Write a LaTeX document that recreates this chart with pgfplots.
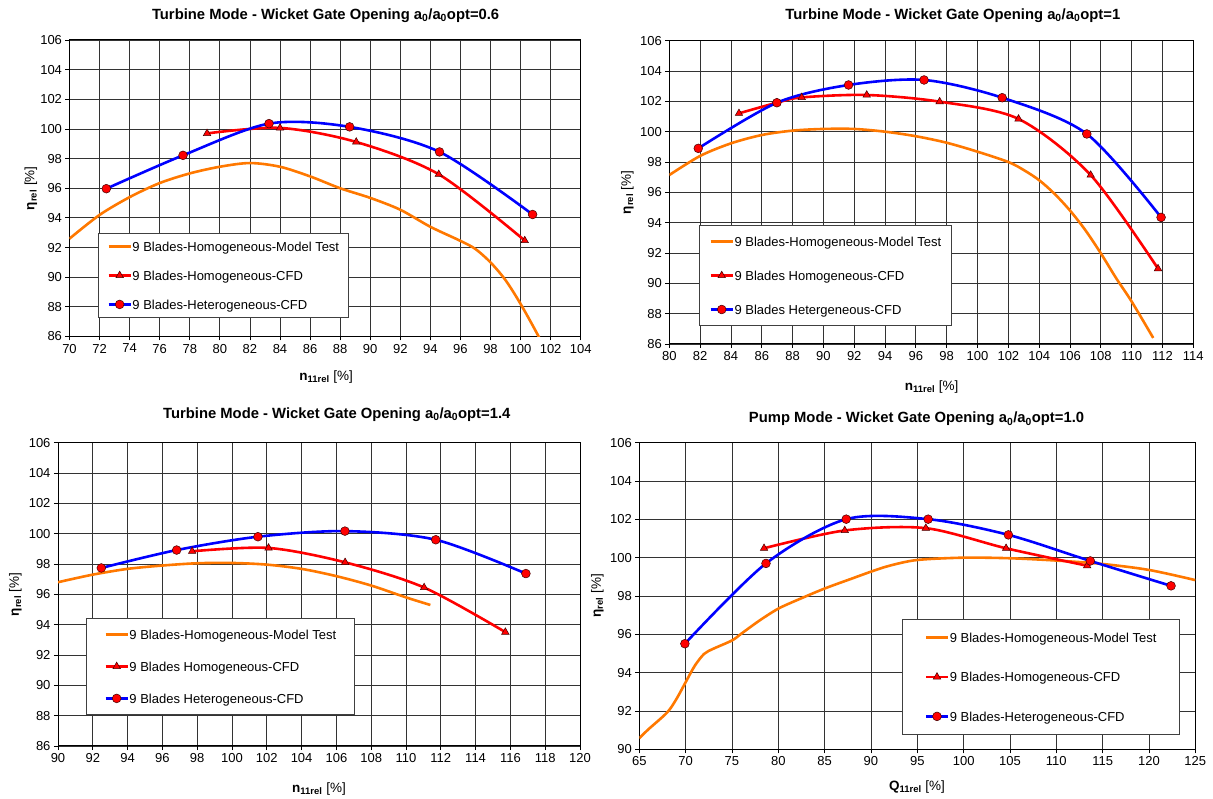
\documentclass[border=0pt]{standalone}
\usepackage{fontspec}
\setmainfont{Liberation Sans}
\usepackage{pgfplots}
\pgfplotsset{compat=1.18}
\definecolor{cOrange}{RGB}{255,120,0}
\definecolor{cRed}{RGB}{255,0,0}
\definecolor{cBlue}{RGB}{0,0,255}
\newcommand\lblfont{\fontsize{13.5}{16}\selectfont}
\pgfplotsset{
  panel/.style={
    scale only axis,
    anchor=south west,
    axis line style={black, line width=1pt},
    grid=major,
    major grid style={black!80, line width=0.8pt},
    tick style={black, line width=0.8pt},
    tick align=outside,
    major tick length=4pt,
    tick pos=left,
    /pgf/number format/assume math mode=true,
    tick label style={font=\fontsize{13}{15}\selectfont},
    legend cell align=left,
    legend image code/.code={\draw[mark repeat=2,mark phase=2,##1] plot coordinates {(0pt,0pt) (11pt,0pt) (22pt,0pt)};},
  },
  ttl/.style 2 args={every axis title/.style={at={(axis description cs:#1,#2)}, anchor=center, font=\fontsize{14.8}{17}\selectfont\bfseries}},
  xl/.style 2 args={every axis x label/.style={at={(axis description cs:#1,#2)}, anchor=center, font=\lblfont}},
  yl/.style={every axis y label/.style={at={(axis description cs:#1,0.5)}, anchor=center, rotate=90, font=\lblfont}},
  mt/.style={color=cOrange, line width=2.6pt, smooth, no markers},
  hom/.style={color=cRed, line width=2.6pt, smooth, mark=triangle*, mark size=4.3pt, mark options={fill=cRed, draw=black!75!red, line width=0.5pt}},
  het/.style={color=cBlue, line width=2.6pt, smooth, mark=*, mark size=4.4pt, mark options={fill=cRed, draw=black!75!red, line width=0.5pt}},
  lg/.style n args={5}{legend style={at={(axis description cs:#1,#2)}, anchor=north west, draw=black!75, line width=0.8pt, fill=white,
      font=\fontsize{13}{15}\selectfont, inner xsep=#3, inner ysep=#4, row sep=#5, column sep=0pt,
      nodes={inner sep=0.5pt, text height=10.7pt, text depth=1.3pt}}},
}
\begin{document}
\begin{tikzpicture}
\useasboundingbox (0pt,0pt) rectangle (1213pt,798pt);
% ---------- Panel 1 ----------
\begin{axis}[panel, at={(69.5pt,461.5pt)}, width=511.2pt, height=296.5pt,
  xmin=70, xmax=104, ymin=86, ymax=106, xtick={70,72,...,104}, ytick={86,88,...,106},
  title={Turbine Mode - Wicket Gate Opening a\textsubscript{0}/a\textsubscript{0}opt=0.6},
  ttl={0.501}{1.082},
  xlabel={{\bfseries n\textsubscript{11rel}} [\%]},
  ylabel={{\bfseries η\textsubscript{rel}} [\%]},
  xl={0.502}{-0.135}, yl={-0.0753},
  lg={0.0557}{0.349}{9pt}{6.5pt}{16pt}]
\addplot[mt] coordinates {(70,92.6) (72,94.2) (74,95.4) (76,96.35) (78,97.0) (80,97.45) (82,97.7) (84,97.45) (86,96.8) (88,96.0) (90,95.35) (92,94.55) (94,93.4) (96,92.45) (97,91.9) (98,91.0) (99,89.8) (100,88.2) (101.2,86) (101.5,85.2)};
\addlegendentry{9 Blades-Homogeneous-Model Test}
\addplot[hom] coordinates {(79.15,99.7) (84.0,100.07) (89.07,99.12) (94.56,96.94) (100.28,92.47)};
\addlegendentry{9 Blades-Homogeneous-CFD}
\addplot[het] coordinates {(72.45,95.97) (77.55,98.22) (83.27,100.36) (88.63,100.14) (94.61,98.45) (100.8,94.23)};
\addlegendentry{9 Blades-Heterogeneous-CFD}
\end{axis}
% ---------- Panel 2 ----------
\begin{axis}[panel, at={(669.3pt,454pt)}, width=524pt, height=303.3pt,
  xmin=80, xmax=114, ymin=86, ymax=106, xtick={80,82,...,114}, ytick={86,88,...,106},
  title={Turbine Mode - Wicket Gate Opening a\textsubscript{0}/a\textsubscript{0}opt=1},
  ttl={0.541}{1.082},
  xlabel={{\bfseries n\textsubscript{11rel}} [\%]},
  ylabel={{\bfseries η\textsubscript{rel}} [\%]},
  xl={0.5006}{-0.141}, yl={-0.080},
  lg={0.0567}{0.392}{10pt}{9.5pt}{21pt}]
\addplot[mt] coordinates {(80,97.14) (82,98.4) (84,99.23) (86,99.78) (88,100.07) (90,100.18) (92,100.18) (94,100.0) (96,99.7) (98,99.27) (100,98.68) (102,98.0) (103,97.47) (104,96.8) (105,95.9) (106,94.8) (107,93.5) (108,91.98) (109,90.33) (110,88.8) (111.4,86.4)};
\addlegendentry{9 Blades-Homogeneous-Model Test}
\addplot[hom] coordinates {(84.52,101.21) (86.98,101.91) (88.59,102.26) (92.81,102.42) (97.54,101.98) (102.66,100.84) (107.34,97.14) (111.71,90.97)};
\addlegendentry{9 Blades Homogeneous-CFD}
\addplot[het] coordinates {(81.88,98.9) (86.98,101.91) (91.63,103.08) (96.53,103.41) (101.6,102.24) (107.09,99.85) (111.91,94.35)};
\addlegendentry{9 Blades Hetergeneous-CFD}
\end{axis}
% ---------- Panel 3 ----------
\begin{axis}[panel, at={(58pt,52pt)}, width=522pt, height=303.3pt,
  xmin=90, xmax=120, ymin=86, ymax=106, xtick={90,92,...,120}, ytick={86,88,...,106},
  title={Turbine Mode - Wicket Gate Opening a\textsubscript{0}/a\textsubscript{0}opt=1.4},
  ttl={0.534}{1.092},
  xlabel={{\bfseries n\textsubscript{11rel}} [\%]},
  ylabel={{\bfseries η\textsubscript{rel}} [\%]},
  xl={0.5}{-0.142}, yl={-0.0814},
  lg={0.0536}{0.422}{18pt}{9.5pt}{19pt}]
\addplot[mt] coordinates {(90,96.8) (92,97.3) (94,97.68) (96,97.9) (98,98.05) (100,98.07) (102,97.96) (104,97.68) (106,97.2) (108,96.58) (110,95.8) (111.4,95.3)};
\addlegendentry{9 Blades-Homogeneous-Model Test}
\addplot[hom] coordinates {(97.71,98.84) (102.1,99.06) (106.5,98.11) (111.04,96.45) (115.71,93.51)};
\addlegendentry{9 Blades Homogeneous-CFD}
\addplot[het] coordinates {(92.49,97.74) (96.82,98.92) (101.49,99.8) (106.49,100.17) (111.71,99.6) (116.89,97.37)};
\addlegendentry{9 Blades Heterogeneous-CFD}
\end{axis}
% ---------- Panel 4 ----------
\begin{axis}[panel, at={(639.3pt,48.7pt)}, width=556pt, height=306.6pt,
  xmin=65, xmax=125, ymin=90, ymax=106, xtick={65,70,...,125}, ytick={90,92,...,106},
  title={Pump Mode - Wicket Gate Opening a\textsubscript{0}/a\textsubscript{0}opt=1.0},
  ttl={0.4986}{1.077},
  xlabel={{\bfseries Q\textsubscript{11rel}} [\%]},
  ylabel={{\bfseries η\textsubscript{rel}} [\%]},
  xl={0.4995}{-0.124}, yl={-0.0755},
  lg={0.473}{0.425}{22pt}{11.5pt}{26.5pt}]
\addplot[mt] coordinates {(65,90.58) (66,91.05) (68,91.92) (69,92.62) (70,93.5) (71,94.37) (72,94.98) (73,95.25) (75,95.68) (76,96.03) (78,96.73) (80,97.34) (82,97.78) (85,98.39) (88,98.92) (90,99.27) (92,99.58) (95,99.88) (100,100.0) (105,99.97) (110,99.85) (115,99.67) (120,99.36) (125,98.83)};
\addlegendentry{9 Blades-Homogeneous-Model Test}
\addplot[hom] coordinates {(78.46,100.49) (87.17,101.42) (95.92,101.54) (104.58,100.49) (113.33,99.58)};
\addlegendentry{9 Blades-Homogeneous-CFD}
\addplot[het] coordinates {(69.92,95.51) (78.67,99.7) (87.33,102.01) (96.17,102.01) (104.83,101.19) (113.67,99.83) (122.38,98.53)};
\addlegendentry{9 Blades-Heterogeneous-CFD}
\end{axis}
\end{tikzpicture}
\end{document}
